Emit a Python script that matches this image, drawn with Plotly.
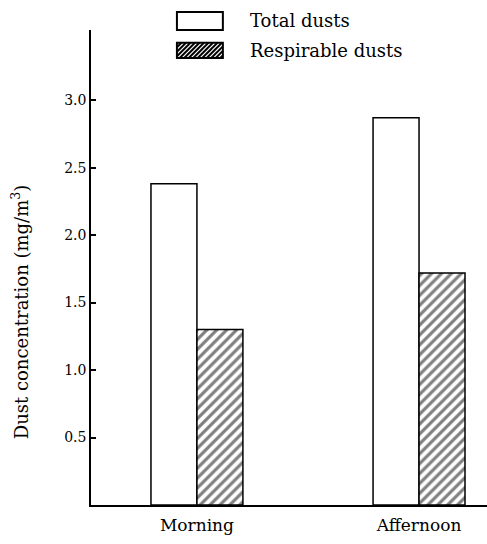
import plotly.graph_objects as go

categories = ["Morning", "Affernoon"]
total_dusts = [2.38, 2.87]
respirable_dusts = [1.30, 1.72]
y_ticks = [0.5, 1.0, 1.5, 2.0, 2.5, 3.0]
y_tick_labels = ["0.5", "1.0", "1.5", "2.0", "2.5", "3.0"]
series_names = ["Total dusts", "Respirable dusts"]
y_title = "Dust concentration (mg/m<sup>3</sup>)"

FONT = "DejaVu Serif"

fig = go.Figure()
fig.add_trace(go.Bar(
    x=[0, 1], y=total_dusts, name=series_names[0],
    marker=dict(color="white", line=dict(color="black", width=1.5)),
    showlegend=False,
))
fig.add_trace(go.Bar(
    x=[0, 1], y=respirable_dusts, name=series_names[1],
    marker=dict(color="white", line=dict(color="black", width=1.5),
                pattern=dict(shape="/", fgcolor="black", bgcolor="white",
                             size=7, solidity=0.45)),
    showlegend=False,
))

# manual legend (paper coordinates)
L = dict(x0=0.217, x1=0.333)
boxes = [(1.0, 1.038), (0.941, 0.973)]
shapes = []
for i, (y0, y1) in enumerate(boxes):
    shapes.append(dict(type="rect", xref="paper", yref="paper",
                       x0=L["x0"], x1=L["x1"], y0=y0, y1=y1,
                       line=dict(color="black", width=2),
                       fillcolor="white"))
# hatch lines for second legend box
px_w = 396.0
px_h = 475.0
bx0, bx1 = L["x0"] * px_w, L["x1"] * px_w
by0, by1 = boxes[1][0] * px_h, boxes[1][1] * px_h
h = by1 - by0
step = 4.5
s = bx0 - h
while s < bx1:
    xa, ya = s, by0
    xb, yb = s + h, by1
    if xa < bx0:
        ya = by0 + (bx0 - xa)
        xa = bx0
    if xb > bx1:
        yb = by1 - (xb - bx1)
        xb = bx1
    if xb > xa:
        shapes.append(dict(type="line", xref="paper", yref="paper",
                           x0=xa / px_w, y0=ya / px_h, x1=xb / px_w, y1=yb / px_h,
                           line=dict(color="black", width=2)))
    s += step

annotations = []
for name, (y0, y1) in zip(series_names, boxes):
    annotations.append(dict(xref="paper", yref="paper", x=0.396, y=(y0 + y1) / 2,
                            text=name, showarrow=False, xanchor="left",
                            yanchor="middle",
                            font=dict(family=FONT, size=18, color="black")))
annotations.append(dict(xref="paper", yref="paper", x=-0.179, y=0.406,
                        text=y_title, textangle=-90, showarrow=False,
                        xanchor="center", yanchor="middle",
                        font=dict(family=FONT, size=18, color="black")))

fig.update_layout(
    width=487, height=544,
    margin=dict(l=91, r=0, t=30, b=39, autoexpand=False),
    paper_bgcolor="white", plot_bgcolor="white",
    barmode="group", bargap=0.586, bargroupgap=0,
    shapes=shapes, annotations=annotations,
    font=dict(family=FONT, color="black"),
    xaxis=dict(
        range=[-0.477, 1.306], tickvals=[0, 1], ticktext=categories,
        showline=True, linecolor="black", linewidth=1.5,
        ticks="", showgrid=False, zeroline=False, automargin=False,
        ticklabelstandoff=4,
        tickfont=dict(family=FONT, size=17, color="black"),
    ),
    yaxis=dict(
        range=[0, 3.52], tickvals=y_ticks, ticktext=y_tick_labels,
        showline=True, linecolor="black", linewidth=1.5,
        ticks="inside", ticklen=5, tickwidth=1.5, tickcolor="black",
        showgrid=False, zeroline=False, automargin=False,
        tickfont=dict(family=FONT, size=14, color="black"),
    ),
)

fig.write_html("out.html",
               config={"displayModeBar": False},
               post_script="document.body.style.margin='0';document.body.style.padding='0';")
